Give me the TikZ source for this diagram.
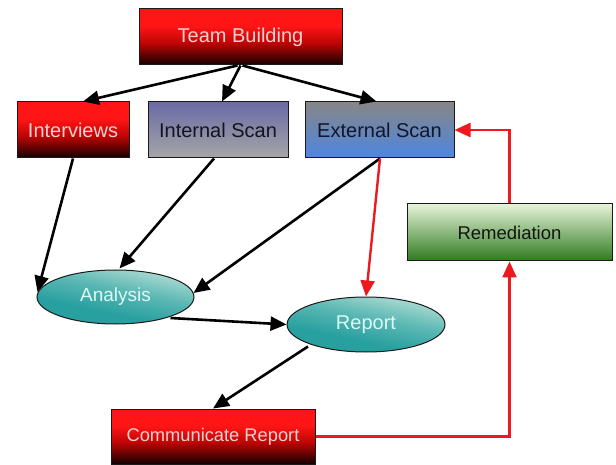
\documentclass[tikz,border=0pt]{standalone}
\usepackage{fontspec}
\setmainfont{Liberation Sans}
\usetikzlibrary{arrows.meta,calc,shapes.geometric}
\definecolor{rtop}{HTML}{FF1515}
\definecolor{rmid}{HTML}{C00505}
\definecolor{rbot}{HTML}{120000}
\definecolor{redtxt}{HTML}{F6D0D0}
\definecolor{linered}{HTML}{EC1A1F}
\definecolor{bord}{HTML}{1A1A1A}
\definecolor{teallight}{HTML}{B4DED6}
\definecolor{tealmid}{HTML}{5CB8B4}
\definecolor{tealdark}{HTML}{28A0A0}
\definecolor{ovaltxt}{HTML}{DCFAF6}
\pgfdeclareverticalshading{redsh}{100bp}{color(0bp)=(rbot); color(25bp)=(rbot); color(45bp)=(rmid); color(60bp)=(rtop); color(75bp)=(rtop); color(100bp)=(rtop)}
\pgfdeclareverticalshading{tealsh}{100bp}{color(0bp)=(tealdark); color(25bp)=(tealdark); color(38bp)=(tealdark); color(56bp)=(tealmid); color(75bp)=(teallight); color(100bp)=(teallight)}
\tikzset{
  box/.style={draw=bord, line width=1pt, rectangle, inner sep=0pt, font=\fontsize{20}{24}\selectfont},
  redbox/.style={box, shading=redsh, text=redtxt},
  oval/.style={draw=bord, line width=1pt, ellipse, inner sep=0pt, shading=tealsh, shading angle=-12, text=ovaltxt, font=\fontsize{19}{23}\selectfont},
  arr/.style={line width=2.6pt, black, -{Triangle[length=16pt,width=14pt]}},
  rarr/.style={line width=2.4pt, linered, -{Triangle[length=16pt,width=14pt]}},
}
\begin{document}
\begin{tikzpicture}[x=1pt,y=-1pt]
\useasboundingbox (0,0) rectangle (616,465);
\node[redbox, minimum width=203pt, minimum height=56pt] (tb) at (240.5,37) {Team Building};
\node[redbox, minimum width=112pt, minimum height=56pt] (iv) at (73,130) {Interviews};
\node[box, minimum width=140pt, minimum height=56pt, top color={rgb,255:red,106;green,106;blue,166}, bottom color={rgb,255:red,166;green,166;blue,166}, text={rgb,255:red,20;green,20;blue,30}] (is) at (218,130) {Internal Scan};
\node[box, minimum width=149pt, minimum height=56pt, top color={rgb,255:red,134;green,134;blue,134}, bottom color={rgb,255:red,78;green,134;blue,224}, text={rgb,255:red,16;green,22;blue,44}] (es) at (379.5,130) {External Scan};
\node[box, minimum width=205pt, minimum height=57pt, top color={rgb,255:red,230;green,243;blue,216}, bottom color={rgb,255:red,46;green,122;blue,30}, text={rgb,255:red,20;green,20;blue,20}, font=\fontsize{18.5}{22}\selectfont] (rm) at (509.5,232.5) {Remediation};
\node[oval, minimum width=157pt, minimum height=54pt] (an) at (115.5,297) {Analysis};
\node[oval, minimum width=158pt, minimum height=55pt, font=\fontsize{20}{24}\selectfont] (rp) at (366,324.5) {Report};
\node[redbox, minimum width=204pt, minimum height=55pt, font=\fontsize{18.3}{22}\selectfont] (cr) at (213,436.5) {Communicate Report};
% black arrows
\draw[arr] ($(tb.south)+(-3,0)$) -- ($(iv.north)+(10,0)$);
\draw[arr] (tb.south) -- ($(is.north)+(4,0)$);
\draw[arr] ($(tb.south)+(2,0)$) -- ($(es.north)+(-3,0)$);
\draw[arr] (iv.south) -- ($(an.west)+(1,-5)$);
\draw[arr] ($(is.south)+(-4,0)$) -- ($(an.north)+(4,-1)$);
\draw[arr] ($(es.south)+(0.5,0)$) -- ($(an.east)+(-1,-4)$);
\draw[arr] ($(an.center)+(55,21)$) -- (rp.west);
\draw[arr] ($(rp.center)+(-58,22)$) -- (cr.north);
% red arrows
\draw[rarr] ($(es.south)+(0.5,0)$) -- (rp.north);
\draw[rarr] (cr.east) -| (rm.south);
\draw[rarr] (rm.north) |- (es.east);
\end{tikzpicture}
\end{document}
